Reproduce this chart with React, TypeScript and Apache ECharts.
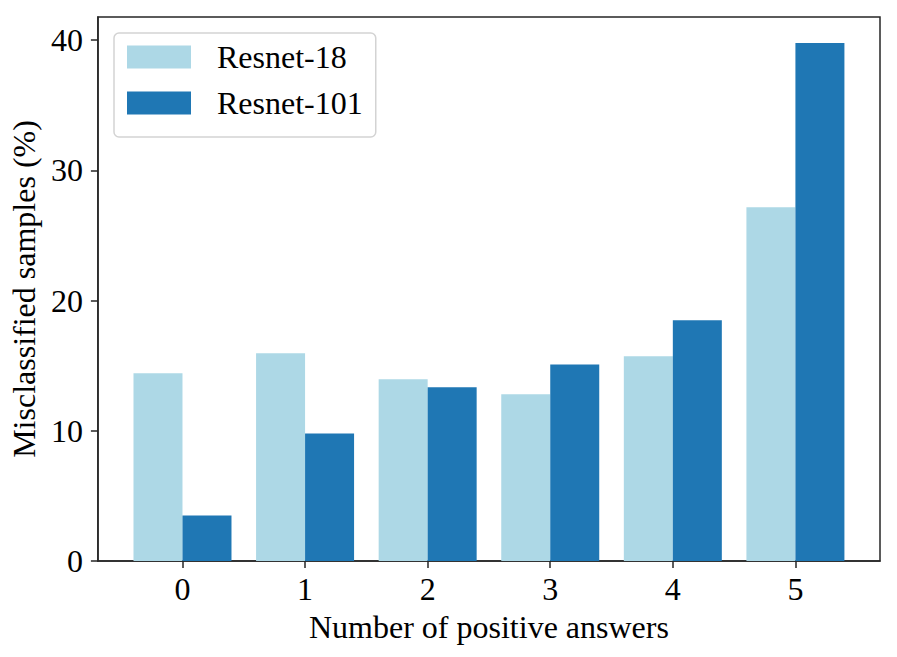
import React, { useEffect, useRef } from "react";
import * as echarts from "echarts";

const categories = [0, 1, 2, 3, 4, 5];
const resnet18 = [14.41, 15.95, 13.95, 12.8, 15.72, 27.17];
const resnet101 = [3.5, 9.8, 13.34, 15.1, 18.49, 39.78];
const yTicks = [0, 10, 20, 30, 40];

const FONT = "'Liberation Serif', 'Times New Roman', serif";
const AXIS = "#262626";
const FS = 32;

export default function App() {
  const ref = useRef<HTMLDivElement>(null);
  useEffect(() => {
    if (!ref.current) return;
    const chart = echarts.init(ref.current, null, { renderer: "svg" });
    chart.setOption({
      animation: false,
      backgroundColor: "#ffffff",
      textStyle: { fontFamily: FONT },
      grid: {
        left: 97.5,
        right: 17,
        top: 17,
        bottom: 96,
        show: true,
        borderColor: AXIS,
        borderWidth: 1.5,
        backgroundColor: "transparent",
      },
      legend: {
        left: 114,
        top: 33,
        orient: "vertical",
        icon: "rect",
        itemWidth: 64,
        itemHeight: 23,
        itemGap: 14,
        padding: [8, 13, 18, 13],
        backgroundColor: "#ffffff",
        borderColor: "#d3d3d3",
        borderWidth: 1.5,
        borderRadius: 5,
        textStyle: {
          fontFamily: FONT,
          fontSize: FS,
          color: "#000",
          padding: [0, 0, 0, 21],
        },
        data: ["Resnet-18", "Resnet-101"],
      },
      xAxis: {
        type: "value",
        min: -0.69,
        max: 5.69,
        name: "Number of positive answers",
        nameLocation: "middle",
        nameGap: 50,
        nameTextStyle: { fontFamily: FONT, fontSize: FS, color: "#000" },
        axisLine: { show: true, onZero: false, lineStyle: { color: AXIS, width: 1.5 } },
        axisTick: {
          show: true,
          length: 7,
          customValues: categories,
          lineStyle: { color: AXIS, width: 1.5 },
        },
        axisLabel: {
          customValues: categories,
          fontFamily: FONT,
          fontSize: FS,
          color: "#000",
          margin: 12,
          formatter: (v: number) => String(Math.round(v)),
        },
        splitLine: { show: false },
      },
      yAxis: {
        type: "value",
        min: 0,
        max: 41.78,
        name: "Misclassified samples (%)",
        nameLocation: "middle",
        nameGap: 53,
        nameTextStyle: { fontFamily: FONT, fontSize: FS, color: "#000" },
        axisLine: { show: true, onZero: false, lineStyle: { color: AXIS, width: 1.5 } },
        axisTick: {
          show: true,
          length: 7,
          customValues: yTicks,
          lineStyle: { color: AXIS, width: 1.5 },
        },
        axisLabel: {
          customValues: yTicks,
          fontFamily: FONT,
          fontSize: FS,
          color: "#000",
          margin: 15,
        },
        splitLine: { show: false },
      },
      series: [
        {
          name: "Resnet-18",
          type: "bar",
          barWidth: 49,
          barGap: "0%",
          itemStyle: { color: "#add8e6" },
          data: categories.map((c, i) => [c, resnet18[i]]),
        },
        {
          name: "Resnet-101",
          type: "bar",
          barWidth: 49,
          barGap: "0%",
          itemStyle: { color: "#1f77b4" },
          data: categories.map((c, i) => [c, resnet101[i]]),
        },
      ],
    });
    return () => chart.dispose();
  }, []);
  return (
    <div
      ref={ref}
      style={{ position: "fixed", left: 0, top: 0, width: 897, height: 657 }}
    />
  );
}
